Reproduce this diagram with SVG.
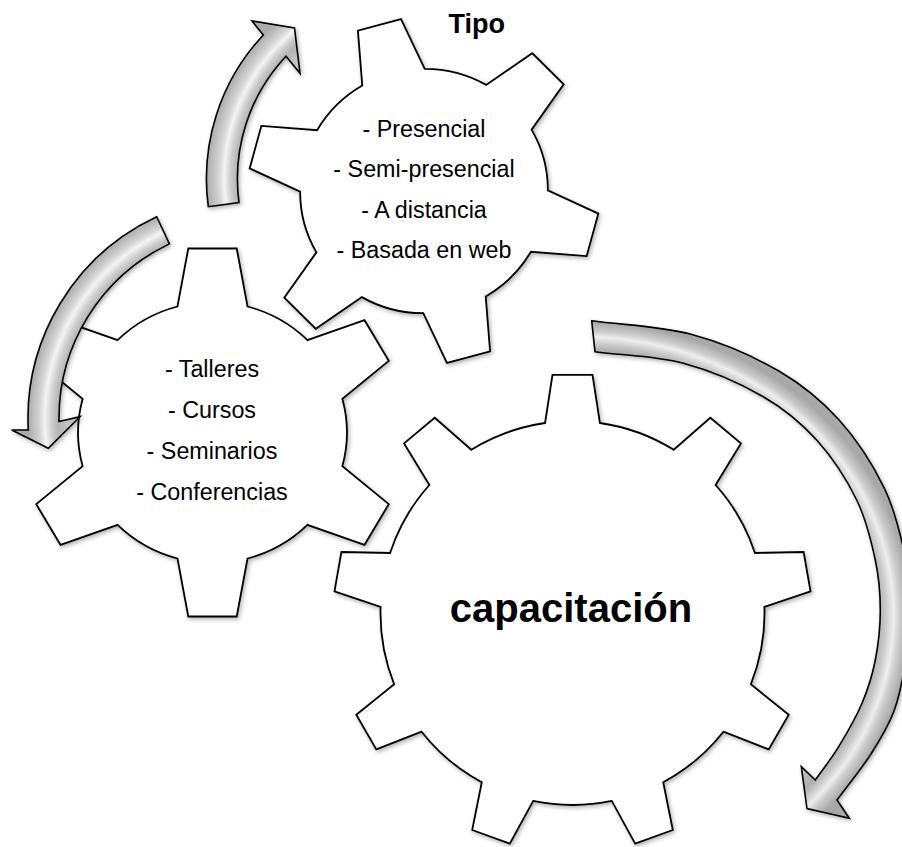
<svg xmlns="http://www.w3.org/2000/svg" width="902" height="847" viewBox="0 0 902 847">
<style>
.gear{fill:#fff;stroke:#000;stroke-width:1.8;stroke-linejoin:miter}
.arrow{stroke:#000;stroke-width:1.6;stroke-linejoin:miter}
.t{font-family:"Liberation Sans",Arial,sans-serif;font-size:23.3px;fill:#000;text-anchor:middle}
.b{font-family:"Liberation Sans",Arial,sans-serif;font-weight:bold;fill:#000;text-anchor:middle}
</style>
<defs>
<filter id="sh" x="-10%" y="-10%" width="130%" height="130%">
<feDropShadow dx="1.5" dy="2" stdDeviation="2" flood-color="#000" flood-opacity="0.3"/>
</filter>
<path id="gear6" class="gear" vector-effect="non-scaling-stroke" d="M -34,-126 L -23.5,-184 L 23.5,-184 L 34,-126 A 130.5 130.5 0 0 1 92.1,-92.4 L 147.6,-112.3 L 171.1,-71.6 L 126.1,-33.6 A 130.5 130.5 0 0 1 126.1,33.6 L 171.1,71.6 L 147.6,112.3 L 92.1,92.4 A 130.5 130.5 0 0 1 34,126 L 23.5,184 L -23.5,184 L -34,126 A 130.5 130.5 0 0 1 -92.1,92.4 L -147.6,112.3 L -171.1,71.6 L -126.1,33.6 A 130.5 130.5 0 0 1 -126.1,-33.6 L -171.1,-71.6 L -147.6,-112.3 L -92.1,-92.4 A 130.5 130.5 0 0 1 -34,-126 Z"/>
<radialGradient id="g1" gradientUnits="userSpaceOnUse" cx="416.4" cy="178.7" r="210">
<stop offset="0.8" stop-color="#c4c4c4"/><stop offset="0.855" stop-color="#b4b4b4"/><stop offset="0.885" stop-color="#cdcdcd"/><stop offset="0.915" stop-color="#f4f4f4"/><stop offset="0.94" stop-color="#d6d6d6"/><stop offset="0.975" stop-color="#bdbdbd"/><stop offset="1" stop-color="#acacac"/>
</radialGradient>
<radialGradient id="g2" gradientUnits="userSpaceOnUse" cx="251" cy="418.8" r="223">
<stop offset="0.82" stop-color="#c4c4c4"/><stop offset="0.866" stop-color="#b4b4b4"/><stop offset="0.893" stop-color="#cdcdcd"/><stop offset="0.925" stop-color="#f4f4f4"/><stop offset="0.948" stop-color="#d6d6d6"/><stop offset="0.978" stop-color="#bdbdbd"/><stop offset="1" stop-color="#acacac"/>
</radialGradient>
<radialGradient id="g3" gradientUnits="userSpaceOnUse" cx="0" cy="0" r="1" gradientTransform="translate(580,615) scale(330,293)">
<stop offset="0.86" stop-color="#c0c0c0"/><stop offset="0.905" stop-color="#b0b0b0"/><stop offset="0.925" stop-color="#c8c8c8"/><stop offset="0.95" stop-color="#eeeeee"/><stop offset="0.968" stop-color="#cdcdcd"/><stop offset="0.99" stop-color="#b4b4b4"/><stop offset="1" stop-color="#a8a8a8"/>
</radialGradient>
</defs>

<g id="gear-capacitacion" filter="url(#sh)">
<path class="gear" d="M 545.1,423 L 552.5,374.8 L 592.5,374.8 L 599.9,423 A 192 192 0 0 1 673.7,449.8 L 710.3,417.7 L 740.9,443.4 L 715.6,485 A 192 192 0 0 1 754.9,553 L 803.6,552 L 810.5,591.3 L 764.4,607 A 192 192 0 0 1 750.8,684.3 L 788.7,714.8 L 768.7,749.4 L 723.4,731.7 A 192 192 0 0 1 663.2,782.2 L 672.8,830 L 635.2,843.6 L 611.8,800.9 A 192 192 0 0 1 533.2,800.9 L 509.8,843.6 L 472.2,830 L 481.8,782.2 A 192 192 0 0 1 421.6,731.7 L 376.3,749.4 L 356.3,714.8 L 394.2,684.3 A 192 192 0 0 1 380.6,607 L 334.5,591.3 L 341.4,552 L 390.1,553 A 192 192 0 0 1 429.4,485 L 404.1,443.4 L 434.7,417.7 L 471.3,449.8 A 192 192 0 0 1 545.1,423 Z"/>
</g>
<g id="gear-capacitacion-label">
<text class="b" x="571" y="621.7" font-size="40">capacitación</text>
</g>

<g id="gear-modalidad" filter="url(#sh)">
<use href="#gear6" transform="translate(212.5,432.5) scale(1.03,1)"/>
</g>
<g id="gear-modalidad-label">
<text class="t" x="212" y="376.7">- Talleres</text>
<text class="t" x="212" y="418">- Cursos</text>
<text class="t" x="212" y="459.3">- Seminarios</text>
<text class="t" x="212" y="500.3">- Conferencias</text>
</g>

<g id="gear-tipo" filter="url(#sh)">
<use href="#gear6" transform="translate(424,191) rotate(-15) scale(0.95,0.935)"/>
</g>
<g id="gear-tipo-label">
<text class="b" x="476.7" y="33.3" font-size="27">Tipo</text>
<text class="t" x="424" y="136.7">- Presencial</text>
<text class="t" x="424" y="177.2">- Semi-presencial</text>
<text class="t" x="424" y="217.7">- A distancia</text>
<text class="t" x="424" y="258.2">- Basada en web</text>
</g>

<g id="connectors" filter="url(#sh)">
<path id="arrow-top" class="arrow" fill="url(#g1)" d="M 208.3,206.7 A 210 210 0 0 1 263.3,35 L 252,21 L 294.5,28 L 300,73.3 L 286,56.2 A 179 179 0 0 0 239,202.5 Z"/>
<path id="arrow-left" class="arrow" fill="url(#g2)" d="M 156.7,216.7 A 223 223 0 0 0 28.3,430 L 11.7,430 L 48.3,448.3 L 80,416.7 L 59,421.5 A 193 193 0 0 1 169.4,243.9 Z"/>
<path id="arrow-right" class="arrow" fill="url(#g3)" d="M 591.7,320.7 C 624.8,325.2 659.9,325.9 691.1,334.3 C 722.3,342.7 754.2,356.7 778.8,371 C 803.4,385.3 821.4,400.4 838.9,419.8 C 856.4,439.2 872.9,464.9 883.9,487.3 C 894.9,509.7 900.3,533.5 904.7,554 C 909.1,574.5 910.3,591.4 910.3,610 C 910.3,628.6 907.5,648.9 904.8,665.7 C 902.1,682.5 899.6,696.3 894,711 C 888.4,725.7 880.5,739.2 871,754 C 861.5,768.8 848.3,784.7 837,800 L 849.3,818.3 L 807,808.5 L 801.3,766.7 L 815.3,780 C 823.1,768.9 830.9,759.5 838.7,746.7 C 846.5,733.9 855.9,717.8 862,703.3 C 868.1,688.9 872.3,675.6 875.3,660 C 878.4,644.5 880.3,626.7 880.3,610 C 880.3,593.3 879.2,578.3 875.3,560 C 871.4,541.7 866.5,520 856.7,500 C 846.9,480 832.3,457.2 816.7,440 C 801.1,422.8 785.5,409.5 763.3,396.7 C 741.1,383.9 711.4,370.8 683.3,363.3 C 655.3,355.8 624.4,355.6 595,351.7 Z"/>
</g>
</svg>
